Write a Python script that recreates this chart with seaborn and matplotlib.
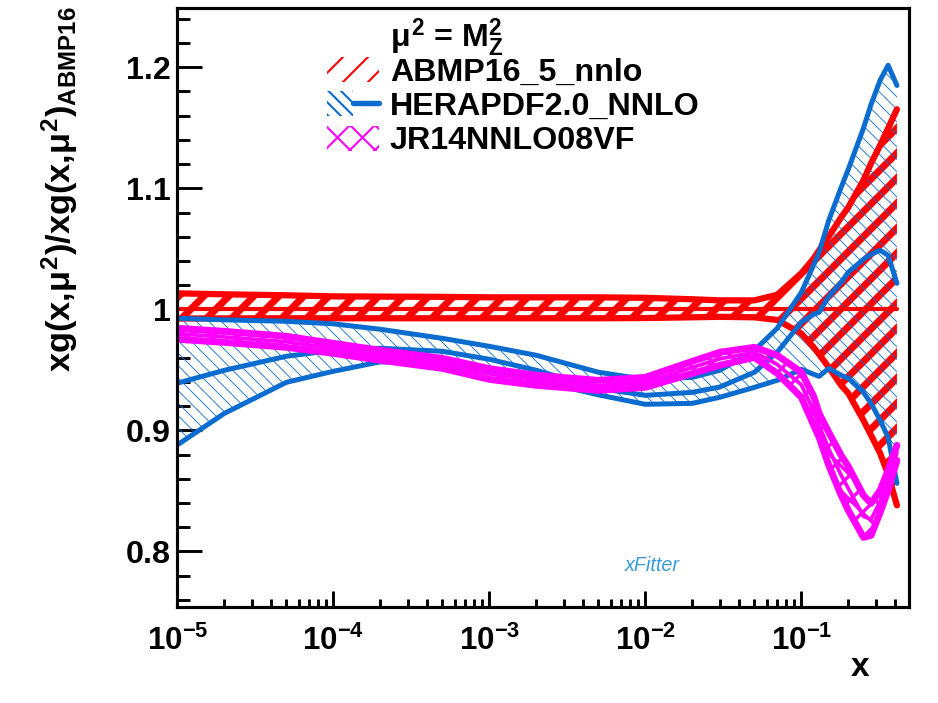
import numpy as np
import pandas as pd
import matplotlib
matplotlib.use("Agg")
import matplotlib.pyplot as plt
import seaborn as sns
from matplotlib.patches import Patch
from matplotlib.lines import Line2D
from matplotlib.legend_handler import HandlerTuple
from matplotlib.ticker import FixedLocator, FixedFormatter, NullFormatter, LogLocator, MultipleLocator

# ---------------- data ----------------
x_vals = [1e-5, 2e-5, 5e-5, 1e-4, 2e-4, 5e-4, 1e-3, 2e-3, 5e-3, 1e-2, 2e-2, 3e-2,
          5e-2, 7e-2, 0.1, 0.12, 0.13, 0.15, 0.18, 0.2, 0.25, 0.28, 0.32, 0.36, 0.41]

abmp_up = [1.0132, 1.0124, 1.0116, 1.0107, 1.0105, 1.0103, 1.0099, 1.0099, 1.0099, 1.0095, 1.0083, 1.0074,
           1.0074, 1.0120, 1.0298, 1.0421, 1.0488, 1.0603, 1.0760, 1.0843, 1.1066, 1.1207, 1.1355, 1.1496, 1.1653]
abmp_c = [1.0, 1.0, 1.0, 1.0, 1.0, 1.0, 1.0, 1.0, 1.0, 1.0, 1.0, 1.0,
          1.0, 1.0, 1.0, 1.0, 1.0, 1.0, 1.0, 1.0, 1.0, 1.0, 1.0, 1.0, 1.0]
abmp_dn = [0.9924, 0.9925, 0.9926, 0.9926, 0.9926, 0.9926, 0.9926, 0.9926, 0.9926, 0.9928, 0.9934, 0.9938,
           0.9934, 0.9912, 0.9800, 0.9686, 0.9628, 0.9520, 0.9372, 0.9306, 0.9083, 0.8959, 0.8810, 0.8636, 0.8380]

hera_up = [0.9926, 0.9913, 0.9901, 0.9880, 0.9835, 0.9760, 0.9694, 0.9620, 0.9480, 0.9421, 0.9438, 0.9496,
           0.9660, 0.9843, 1.0140, 1.0368, 1.0471, 1.0736, 1.1008, 1.1157, 1.1496, 1.1694, 1.1893, 1.2017, 1.1850]
hera_c = [0.9390, 0.9496, 0.9612, 0.9661, 0.9678, 0.9653, 0.9587, 0.9496, 0.9347, 0.9289, 0.9314, 0.9358,
          0.9480, 0.9645, 0.9893, 0.9959, 0.9975, 1.0107, 1.0223, 1.0306, 1.0413, 1.0455, 1.0488, 1.0446, 1.0215]
hera_dn = [0.8880, 0.9140, 0.9397, 0.9488, 0.9566, 0.9545, 0.9496, 0.9413, 0.9293, 0.9215, 0.9223, 0.9273,
           0.9355, 0.9413, 0.9504, 0.9463, 0.9446, 0.9512, 0.9455, 0.9430, 0.9314, 0.9223, 0.9083, 0.8942, 0.8562]

jr_up = [0.9843, 0.9818, 0.9777, 0.9719, 0.9661, 0.9595, 0.9510, 0.9455, 0.9413, 0.9438, 0.9570, 0.9645,
         0.9686, 0.9620, 0.9480, 0.9280, 0.9140, 0.8983, 0.8793, 0.8702, 0.8463, 0.8397, 0.8504, 0.8670, 0.8876]
jr_c = [0.9798, 0.9772, 0.9731, 0.9678, 0.9620, 0.9553, 0.9466, 0.9413, 0.9371, 0.9396, 0.9520, 0.9591,
        0.9645, 0.9545, 0.9376, 0.9160, 0.9041, 0.8846, 0.8628, 0.8520, 0.8290, 0.8264, 0.8413, 0.8587, 0.8814]
jr_dn = [0.9752, 0.9727, 0.9686, 0.9636, 0.9579, 0.9512, 0.9421, 0.9372, 0.9330, 0.9355, 0.9470, 0.9537,
         0.9603, 0.9471, 0.9273, 0.9041, 0.8942, 0.8710, 0.8463, 0.8339, 0.8116, 0.8132, 0.8322, 0.8504, 0.8752]

set_names = ["ABMP16_5_nnlo", "HERAPDF2.0_NNLO", "JR14NNLO08VF"]
xtick_pos = [1e-5, 1e-4, 1e-3, 1e-2, 1e-1]
xtick_labels = [r"$\mathbf{10^{-5}}$", r"$\mathbf{10^{-4}}$", r"$\mathbf{10^{-3}}$",
                r"$\mathbf{10^{-2}}$", r"$\mathbf{10^{-1}}$"]
ytick_pos = [0.8, 0.9, 1.0, 1.1, 1.2]
ytick_labels = ["0.8", "0.9", "1", "1.1", "1.2"]

# ---------------- style ----------------
sns.set_theme(style="ticks")
plt.rcParams["font.family"] = ["Liberation Sans", "DejaVu Sans"]
plt.rcParams["font.weight"] = "bold"
plt.rcParams["mathtext.fontset"] = "custom"
plt.rcParams["mathtext.rm"] = "Liberation Sans:bold"
plt.rcParams["mathtext.it"] = "Liberation Sans:bold"
plt.rcParams["mathtext.bf"] = "Liberation Sans:bold"
plt.rcParams["mathtext.sf"] = "Liberation Sans:bold"
plt.rcParams["axes.edgecolor"] = "black"
plt.rcParams["xtick.color"] = "black"
plt.rcParams["ytick.color"] = "black"
plt.rcParams["xtick.labelcolor"] = "black"
plt.rcParams["ytick.labelcolor"] = "black"
plt.rcParams["text.color"] = "black"
plt.rcParams["axes.labelcolor"] = "black"
plt.rcParams["legend.labelcolor"] = "black"

RED = "#ff0000"
BLUE = "#0a6ccf"
MAG = "#ff00ff"

DPI = 150
fig = plt.figure(figsize=(938 / DPI, 703 / DPI), dpi=DPI)
fig.patch.set_facecolor("white")
ax = fig.add_axes([177.4 / 938, 1 - 607 / 703, (909 - 177.4) / 938, (607 - 8) / 703])
ax.set_xscale("log")


def band(lo, hi, color, hatch, hlw):
    with plt.rc_context({"hatch.linewidth": hlw}):
        coll = ax.fill_between(x_vals, lo, hi, facecolor="none", edgecolor=color,
                               hatch=hatch, linewidth=0)
    if hasattr(coll, "set_hatch_linewidth"):
        coll.set_hatch_linewidth(hlw)
    return coll


def line(vals, color, lw):
    sns.lineplot(x=x_vals, y=vals, color=color, linewidth=lw, ax=ax, legend=False,
                 estimator=None, solid_capstyle="round", solid_joinstyle="round")


# ABMP16 band
band(abmp_dn, abmp_up, RED, "//", 3.4)
line(abmp_up, RED, 3.0)
line(abmp_dn, RED, 3.0)
line(abmp_c, RED, 2.0)

# HERAPDF band
band(hera_dn, hera_up, BLUE, "\\\\\\\\", 0.4)
line(hera_up, BLUE, 2.4)
line(hera_dn, BLUE, 2.4)
line(hera_c, BLUE, 2.4)

# JR14 band
band(jr_dn, jr_up, MAG, "xx", 1.6)
line(jr_up, MAG, 3.3)
line(jr_dn, MAG, 3.3)
line(jr_c, MAG, 1.8)

# ---------------- axes ----------------
ax.set_xlim(1e-5, 0.49)
ax.set_ylim(0.754, 1.249)
ax.xaxis.set_major_locator(FixedLocator(xtick_pos))
ax.xaxis.set_major_formatter(FixedFormatter(xtick_labels))
ax.xaxis.set_minor_locator(LogLocator(base=10, subs=np.arange(2, 10), numticks=30))
ax.xaxis.set_minor_formatter(NullFormatter())
ax.yaxis.set_major_locator(FixedLocator(ytick_pos))
ax.yaxis.set_major_formatter(FixedFormatter(ytick_labels))
ax.yaxis.set_minor_locator(MultipleLocator(0.02))
ax.tick_params(which="both", direction="in", top=False, right=False, width=1.4, color="black")
ax.tick_params(axis="y", which="major", length=12, labelsize=15.5, pad=3)
ax.tick_params(axis="y", which="minor", length=6.2)
ax.tick_params(axis="x", which="major", length=7.7, labelsize=15, pad=9)
ax.tick_params(axis="x", which="minor", length=3.8)
for lbl in ax.get_yticklabels():
    lbl.set_fontweight("bold")
    lbl.set_color("black")
for s in ax.spines.values():
    s.set_linewidth(1.5)
    s.set_color("black")
    s.set_visible(True)
ax.set_xlabel("")
ax.set_ylabel("")

fig.text(60 / 938, 1 - 6 / 703, r"xg(x,$\mu^{2}$)/xg(x,$\mu^{2}$)$_{\mathbf{ABMP16}}$",
         rotation=90, ha="center", va="top", fontsize=16.5, fontweight="bold", color="black")
fig.text(860 / 938, 1 - 668 / 703, "x", ha="center", va="center", fontsize=16,
         fontweight="bold", color="black")

# ---------------- legend ----------------
with plt.rc_context({"hatch.linewidth": 3.2}):
    h_abmp = Patch(facecolor="none", edgecolor=RED, hatch="//", linewidth=0)
with plt.rc_context({"hatch.linewidth": 0.5}):
    h_hera_p = Patch(facecolor="none", edgecolor=BLUE, hatch="\\\\\\\\", linewidth=0)
with plt.rc_context({"hatch.linewidth": 2.8}):
    h_jr = Patch(facecolor="none", edgecolor=MAG, hatch="xx", linewidth=0)
for h, w in ((h_abmp, 3.2), (h_hera_p, 0.5), (h_jr, 2.8)):
    if hasattr(h, "set_hatch_linewidth"):
        h.set_hatch_linewidth(w)
h_hera_l = Line2D([], [], color=BLUE, linewidth=2.6)

leg = fig.legend([h_abmp, (h_hera_p, h_hera_l), h_jr], set_names,
                 handler_map={tuple: HandlerTuple(ndivide=None)},
                 loc="upper left", bbox_to_anchor=(327 / 938, 1 - 57 / 703),
                 bbox_transform=fig.transFigure, frameon=False, borderpad=0,
                 borderaxespad=0, handlelength=1.6, handleheight=0.8,
                 handletextpad=0.35, labelspacing=0.12,
                 prop={"size": 15.5, "weight": "bold"})
for t in leg.get_texts():
    t.set_color("black")

fig.text(390 / 938, 1 - 38 / 703, r"$\mu^{2}$ = M$_{Z}^{2}$", ha="left", va="center",
         fontsize=15.5, fontweight="bold", color="black")

# xFitter logo text
ax.text(0.649, 0.07, "xFitter", transform=ax.transAxes, style="italic",
        fontweight="normal", color="#3a9ad9", fontsize=9.5, ha="center", va="center")

fig.savefig("out.png", dpi=DPI, facecolor="white")
